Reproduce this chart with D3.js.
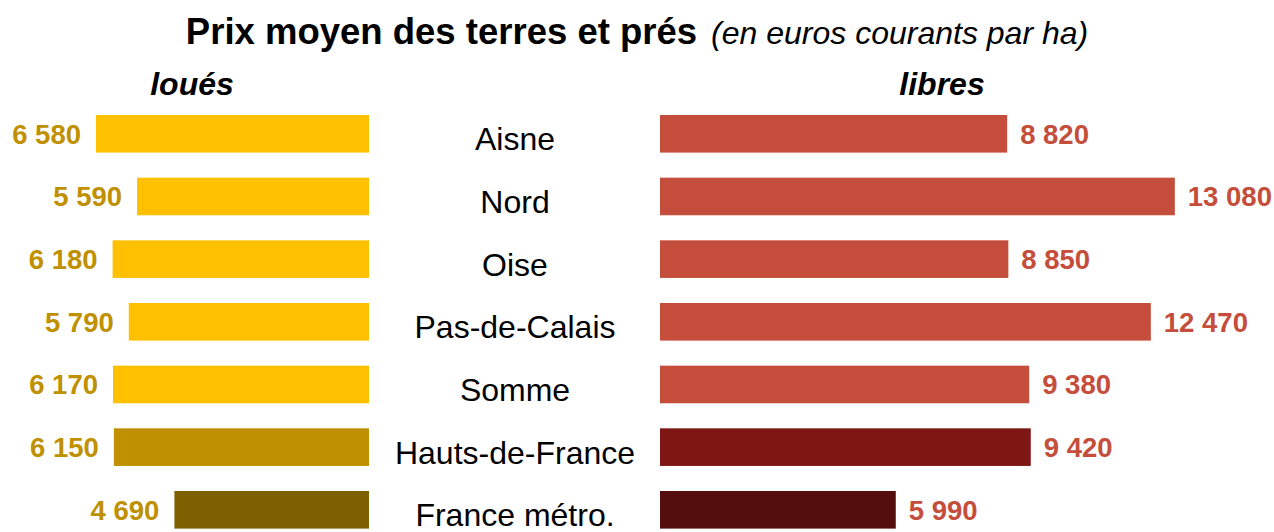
<!DOCTYPE html>
<html><head><meta charset="utf-8">
<script src="https://cdn.jsdelivr.net/npm/d3@7"></script>
<style>body{margin:0;background:#fff}svg{display:block;font-family:"Liberation Sans",Arial,sans-serif}</style>
</head><body><svg id="c" width="1274" height="532"></svg>
<script>
const categories = ["Aisne","Nord","Oise","Pas-de-Calais","Somme","Hauts-de-France","France métro."];
const loues = [6580,5590,6180,5790,6170,6150,4690];
const libres = [8820,13080,8850,12470,9380,9420,5990];
const leftColors = ["#FFC000","#FFC000","#FFC000","#FFC000","#FFC000","#BF9000","#7F6000"];
const rightColors = ["#C44E3B","#C44E3B","#C44E3B","#C44E3B","#C44E3B","#7E1713","#530E0D"];

const svg = d3.select("#c");
const fmt = d3.formatLocale({decimal:",",thousands:" ",grouping:[3],currency:["","€"]}).format(",d");

const y = d3.scaleBand().domain(categories).range([115, 528.6]).paddingInner(0.4).paddingOuter(0);
const xL = d3.scaleLinear().domain([0,10000]).range([369, 369-414.9]);
const xR = d3.scaleLinear().domain([0,10000]).range([660, 660+393.6]);

// title
const t = svg.append("text").attr("x",637).attr("y",44).attr("text-anchor","middle");
t.append("tspan").attr("font-weight","bold").attr("font-size",36.5).attr("fill","#000").text("Prix moyen des terres et prés");
t.append("tspan").attr("font-style","italic").attr("font-size",32).attr("fill","#000").attr("dx",14).text("(en euros courants par ha)");

svg.append("text").attr("x",192).attr("y",95).attr("text-anchor","middle").attr("font-weight","bold").attr("font-style","italic").attr("font-size",32).text("loués");
svg.append("text").attr("x",942).attr("y",95).attr("text-anchor","middle").attr("font-weight","bold").attr("font-style","italic").attr("font-size",32).text("libres");

const rows = categories.map((c,i)=>({c, l:loues[i], r:libres[i], lc:leftColors[i], rc:rightColors[i]}));

svg.selectAll("rect.l").data(rows).join("rect").attr("class","l")
  .attr("x",d=>xL(d.l)).attr("y",d=>y(d.c)).attr("width",d=>xL(0)-xL(d.l)).attr("height",y.bandwidth()).attr("fill",d=>d.lc);
svg.selectAll("rect.r").data(rows).join("rect").attr("class","r")
  .attr("x",xR(0)).attr("y",d=>y(d.c)).attr("width",d=>xR(d.r)-xR(0)).attr("height",y.bandwidth()).attr("fill",d=>d.rc);

svg.selectAll("text.lv").data(rows).join("text").attr("class","lv")
  .attr("x",d=>xL(d.l)-15).attr("y",d=>y(d.c)+y.bandwidth()/2).attr("dy","0.36em")
  .attr("text-anchor","end").attr("font-weight","bold").attr("font-size",27.5).attr("fill","#BF9000").text(d=>fmt(d.l));
svg.selectAll("text.rv").data(rows).join("text").attr("class","rv")
  .attr("x",d=>xR(d.r)+13).attr("y",d=>y(d.c)+y.bandwidth()/2).attr("dy","0.36em")
  .attr("text-anchor","start").attr("font-weight","bold").attr("font-size",27.5).attr("fill","#C44E3B").text(d=>fmt(d.r));

svg.selectAll("text.cat").data(rows).join("text").attr("class","cat")
  .attr("x",515).attr("y",d=>y(d.c)+y.bandwidth()/2+5).attr("dy","0.36em")
  .attr("text-anchor","middle").attr("font-size",32).attr("fill","#000").text(d=>d.c);
</script></body></html>
